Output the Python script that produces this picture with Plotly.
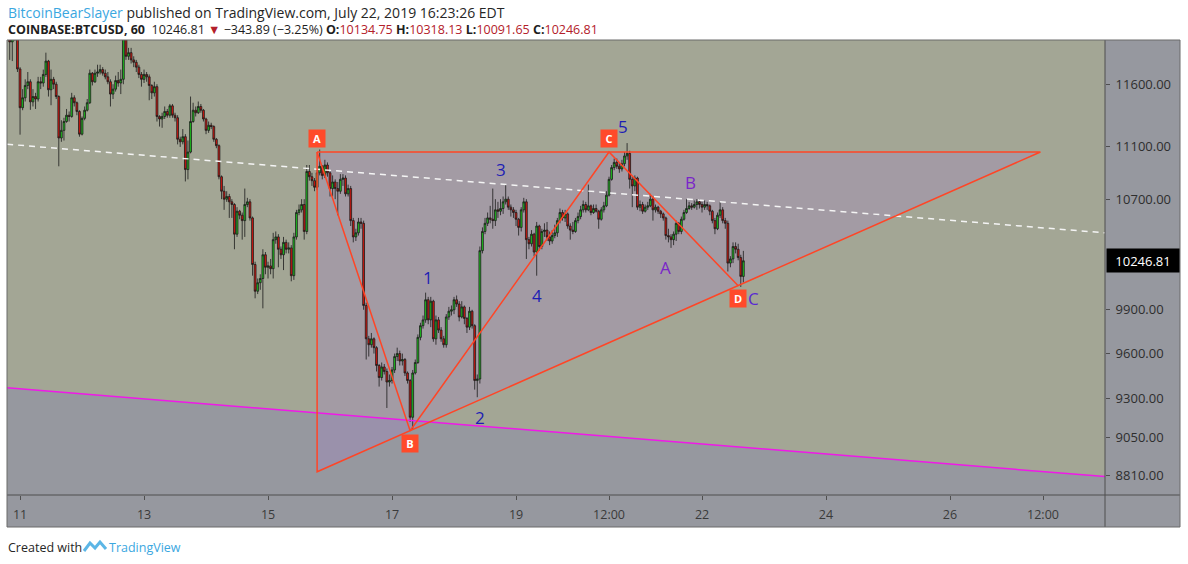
import numpy as np
import pandas as pd
import plotly.graph_objects as go

# ---- hourly BTCUSD candles (Coinbase, 60 min) ----
start_time = "2019-07-10 20:00"
first_open = 12000

closes = [
    11950, 11990, 12050, 11725, 11410, 11490, 11590, 11620, 11457, 11500, 11480, 11620,
    11610, 11680, 11790, 11555, 11640, 11600, 11500, 11170, 11230, 11300, 11350, 11340,
    11490, 11450, 11380, 11200, 11325, 11390, 11450, 11690, 11620, 11690, 11700, 11720,
    11690, 11660, 11620, 11520, 11560, 11630, 11610, 11640, 11990, 11830, 11860, 11800,
    11780, 11740, 11680, 11640, 11680, 11660, 11590, 11530, 11580, 11340, 11320, 11340,
    11380, 11350, 11425, 11350, 11330, 11160, 11140, 11180, 10925, 11060, 11300, 11390,
    11370, 11420, 11390, 11320, 11230, 11270, 11260, 11160, 11110, 10870, 10760, 10700,
    10720, 10680, 10660, 10440, 10610, 10580, 10540, 10660, 10680, 10560, 10220, 10030,
    10090, 10120, 10290, 10200, 10210, 10190, 10400, 10420, 10330, 10290, 10380, 10330,
    10340, 10140, 10420, 10600, 10620, 10660, 10460, 10910, 10870, 10840, 10790, 10900,
    10950, 10880, 10960, 10900, 10780, 10830, 10780, 10760, 10850, 10860, 10740, 10780,
    10540, 10420, 10450, 10530, 10520, 9930, 9700, 9660, 9700, 9640, 9520, 9440,
    9510, 9480, 9410, 9420, 9490, 9580, 9600, 9550, 9560, 9470, 9420, 9180,
    9470, 9540, 9710, 9790, 9830, 9970, 9830, 9960, 9700, 9830, 9760, 9700,
    9660, 9850, 9890, 9900, 9970, 9940, 9850, 9920, 9840, 9780, 9890, 9790,
    9420, 9430, 10320, 10460, 10520, 10560, 10550, 10540, 10620, 10610, 10630, 10680,
    10700, 10640, 10620, 10600, 10550, 10490, 10620, 10680, 10400, 10370, 10440, 10310,
    10500, 10350, 10460, 10470, 10420, 10390, 10430, 10450, 10540, 10600, 10560, 10590,
    10500, 10470, 10460, 10540, 10570, 10620, 10660, 10620, 10650, 10600, 10630, 10610,
    10550, 10620, 10650, 10730, 10850, 10940, 10980, 10950, 10930, 10970, 11030, 11050,
    10850, 10800, 10860, 10640, 10660, 10610, 10640, 10650, 10700, 10620, 10640, 10610,
    10590, 10560, 10430, 10420, 10400, 10440, 10520, 10460, 10550, 10600, 10630, 10650,
    10640, 10660, 10680, 10660, 10640, 10660, 10650, 10610, 10540, 10480, 10580, 10620,
    10540, 10520, 10230, 10260, 10350, 10330, 10270, 10134.75, 10246.81,
]

highs = [
    12150, 12100, 12200, 12100, 11740, 11560, 11640, 11700, 11640, 11560, 11530, 11660,
    11660, 11720, 11860, 11800, 11720, 11660, 11620, 11510, 11310, 11330, 11400, 11380,
    11530, 11510, 11460, 11390, 11340, 11420, 11480, 11720, 11700, 11720, 11760, 11760,
    11740, 11720, 11700, 11640, 11600, 11670, 11700, 11720, 12100, 12050, 11900, 11900,
    11830, 11800, 11760, 11700, 11720, 11700, 11680, 11600, 11620, 11600, 11350, 11370,
    11420, 11400, 11440, 11440, 11370, 11350, 11180, 11240, 11200, 11150, 11500, 11450,
    11420, 11460, 11440, 11400, 11330, 11300, 11290, 11270, 11170, 11120, 10880, 10800,
    10760, 10740, 10700, 10670, 10640, 10620, 10600, 10780, 10710, 10700, 10570, 10240,
    10120, 10150, 10330, 10310, 10240, 10260, 10450, 10460, 10440, 10350, 10420, 10400,
    10380, 10360, 10450, 10620, 10660, 10700, 10700, 10960, 10960, 10900, 10860, 10930,
    11080, 10960, 11000, 10980, 10910, 10880, 10850, 10830, 10890, 10890, 10880, 10810,
    10800, 10560, 10480, 10560, 10560, 10540, 9950, 9720, 9740, 9710, 9650, 9530,
    9540, 9530, 9500, 9460, 9510, 9600, 9640, 9620, 9600, 9570, 9480, 9430,
    9490, 9560, 9730, 9810, 9860, 10020, 9990, 9990, 9970, 9860, 9850, 9780,
    9720, 9870, 9920, 9930, 9990, 10000, 9960, 9960, 9930, 9850, 9920, 9900,
    9800, 9460, 10350, 10490, 10560, 10600, 10650, 10780, 10700, 10680, 10700, 10720,
    10810, 10720, 10660, 10640, 10620, 10560, 10640, 10710, 10700, 10420, 10470, 10450,
    10530, 10510, 10480, 10520, 10530, 10460, 10470, 10510, 10560, 10630, 10620, 10620,
    10600, 10520, 10530, 10560, 10600, 10650, 10690, 10680, 10810, 10660, 10660, 10660,
    10620, 10640, 10680, 10760, 10870, 10960, 11010, 11010, 10980, 11000, 11060, 11130,
    11070, 10870, 10880, 10870, 10690, 10680, 10660, 10680, 10740, 10720, 10660, 10650,
    10620, 10600, 10570, 10480, 10440, 10460, 10540, 10530, 10570, 10620, 10700, 10680,
    10670, 10690, 10700, 10700, 10680, 10690, 10680, 10660, 10620, 10560, 10600, 10680,
    10640, 10560, 10540, 10280, 10380, 10380, 10370, 10290, 10318.13,
]

lows = [
    11800, 11790, 11960, 11700, 11196, 11390, 11460, 11560, 11393, 11420, 11400, 11460,
    11560, 11580, 11660, 11500, 11430, 11560, 11480, 10950, 11140, 11150, 11290, 11300,
    11330, 11420, 11350, 11180, 11190, 11310, 11380, 11440, 11590, 11610, 11660, 11680,
    11670, 11640, 11600, 11420, 11480, 11540, 11580, 11520, 11600, 11800, 11800, 11770,
    11740, 11700, 11650, 11580, 11610, 11620, 11470, 11480, 11500, 11300, 11260, 11250,
    11320, 11330, 11330, 11330, 11300, 11120, 11100, 11120, 10834, 10850, 11050, 11290,
    11340, 11360, 11370, 11300, 11200, 11210, 11240, 11140, 11090, 10850, 10700, 10620,
    10680, 10560, 10560, 10330, 10420, 10550, 10400, 10420, 10640, 10540, 10140, 9980,
    10010, 10040, 9910, 10150, 10120, 10150, 10120, 10370, 10200, 10260, 10180, 10300,
    10300, 10100, 10110, 10400, 10580, 10600, 10400, 10440, 10840, 10800, 10760, 10770,
    10880, 10850, 10860, 10870, 10720, 10720, 10700, 10580, 10740, 10800, 10720, 10720,
    10500, 10380, 10390, 10430, 10480, 9900, 9560, 9580, 9640, 9600, 9480, 9380,
    9420, 9460, 9240, 9380, 9400, 9470, 9550, 9520, 9520, 9450, 9400, 9150,
    9100, 9460, 9530, 9690, 9770, 9810, 9800, 9780, 9680, 9660, 9740, 9680,
    9640, 9640, 9830, 9860, 9870, 9920, 9820, 9840, 9800, 9740, 9760, 9770,
    9360, 9310, 9400, 10300, 10440, 10500, 10520, 10480, 10500, 10560, 10580, 10590,
    10660, 10620, 10570, 10560, 10500, 10430, 10460, 10600, 10260, 10330, 10350, 10280,
    10140, 10320, 10330, 10420, 10390, 10360, 10370, 10410, 10420, 10520, 10540, 10530,
    10480, 10400, 10440, 10450, 10520, 10550, 10600, 10600, 10610, 10580, 10590, 10600,
    10480, 10540, 10600, 10640, 10720, 10840, 10920, 10930, 10900, 10910, 10950, 11000,
    10780, 10640, 10760, 10620, 10610, 10590, 10600, 10620, 10640, 10540, 10600, 10590,
    10560, 10540, 10400, 10380, 10340, 10360, 10390, 10440, 10440, 10540, 10590, 10620,
    10620, 10630, 10620, 10630, 10600, 10620, 10620, 10580, 10520, 10440, 10470, 10560,
    10520, 10480, 10170, 10200, 10230, 10300, 10250, 10060, 10091.65,
]

# ---- drawings (time, price) ----
pattern_names = ["A", "B", "C", "D"]
pattern_times = ["2019-07-15 19:00", "2019-07-17 07:00", "2019-07-20 12:00", "2019-07-22 14:00"]
pattern_prices = [11061, 9093, 11061, 10069]

triangle_times = ["2019-07-15 19:00", "2019-07-27 11:00", "2019-07-15 19:00"]
triangle_prices = [11061, 11061, 8835]

dashed_times = ["2019-07-10 19:00", "2019-07-28 12:00"]
dashed_prices = [11121, 10450]

magenta_times = ["2019-07-10 19:00", "2019-07-28 12:00"]
magenta_prices = [9372, 8805]

wave_labels = ["1", "2", "3", "4", "5", "A", "B", "C"]
wave_times = ["2019-07-17 14:00", "2019-07-18 10:00", "2019-07-18 18:00", "2019-07-19 08:00",
              "2019-07-20 17:30", "2019-07-21 10:00", "2019-07-21 19:30", "2019-07-22 19:45"]
wave_prices = [10125, 9177, 10923, 9997, 11257, 10197, 10829, 9976]
wave_colors = ["#1d1db4", "#1d1db4", "#1d1db4", "#1d1db4", "#1d1db4", "#7a25c8", "#7a25c8", "#5a2ad2"]

ytick_vals = [8810, 9050, 9300, 9600, 9900, 10700, 11100, 11600]
xtick_vals = ["2019-07-11", "2019-07-13", "2019-07-15", "2019-07-17", "2019-07-19",
              "2019-07-20 12:00", "2019-07-22", "2019-07-24", "2019-07-26", "2019-07-27 12:00"]
xtick_text = ["11", "13", "15", "17", "19", "12:00", "22", "24", "26", "12:00"]

x_range = ["2019-07-10 18:57", "2019-07-28 12:00"]
y_range = [8692, 11966]

assert len(closes) == len(highs) == len(lows)

times = pd.date_range(start_time, periods=len(closes), freq="h")
opens = [first_open] + closes[:-1]

# pixel helpers for the frame decorations
PL, PR, PT, PB = 7, 1105, 40, 495


def fx(px):
    return (px - PL) / (PR - PL)


def fy(py):
    return (PB - py) / (PB - PT)


def path_pts(ts, ps):
    pts = [f"{t.replace(' ', '_')},{p}" for t, p in zip(ts, ps)]
    return "M " + " L ".join(pts) + " Z"


BG_GREEN = "#a3a695"
BG_BLUE = "#96989f"
RED_LINE = "#ff4526"
FONT = "Open Sans"

fig = go.Figure()

fig.add_trace(
    go.Candlestick(
        x=times,
        open=opens,
        high=highs,
        low=lows,
        close=closes,
        increasing=dict(fillcolor="#1ec41e", line=dict(color="#1b1b1b", width=0.8)),
        decreasing=dict(fillcolor="#d8170f", line=dict(color="#1b1b1b", width=0.8)),
        whiskerwidth=0,
        hoverinfo="skip",
    )
)

# white dashed trend line
fig.add_trace(
    go.Scatter(
        x=dashed_times, y=dashed_prices, mode="lines",
        line=dict(color="#f4f4f4", width=1.5, dash="6px,5px"),
        hoverinfo="skip"
    )
)

# magenta line
fig.add_trace(
    go.Scatter(
        x=magenta_times, y=magenta_prices, mode="lines",
        line=dict(color="#f018e8", width=1.5),
        hoverinfo="skip"
    )
)

# triangle outline
fig.add_trace(
    go.Scatter(
        x=triangle_times + triangle_times[:1], y=triangle_prices + triangle_prices[:1],
        mode="lines", line=dict(color=RED_LINE, width=1.5),
        hoverinfo="skip"
    )
)

# A-B-C-D zigzag
fig.add_trace(
    go.Scatter(
        x=pattern_times, y=pattern_prices, mode="lines",
        line=dict(color=RED_LINE, width=1.5),
        hoverinfo="skip"
    )
)

shapes = [
    # price scale and time scale panels
    dict(type="rect", xref="paper", yref="paper", x0=fx(1105), x1=fx(1180), y0=fy(527), y1=fy(40),
         fillcolor=BG_BLUE, line=dict(width=0), layer="below"),
    dict(type="rect", xref="paper", yref="paper", x0=fx(7), x1=fx(1105), y0=fy(527), y1=fy(495),
         fillcolor=BG_BLUE, line=dict(width=0), layer="below"),
    # shaded area under the magenta line
    dict(type="path", xref="x", yref="y",
         path=path_pts(magenta_times + magenta_times[::-1], magenta_prices + [8000, 8000]),
         fillcolor=BG_BLUE, line=dict(width=0), layer="below"),
    # triangle fill
    dict(type="path", xref="x", yref="y",
         path=path_pts(triangle_times, triangle_prices),
         fillcolor="rgba(165,128,198,0.3)", line=dict(width=0), layer="below"),
    # frame lines
    dict(type="line", xref="paper", yref="paper", x0=fx(1105), x1=fx(1105), y0=fy(527), y1=fy(40),
         line=dict(color="#4f4f4f", width=1)),
    dict(type="line", xref="paper", yref="paper", x0=fx(7), x1=fx(1180), y0=fy(495), y1=fy(495),
         line=dict(color="#4f4f4f", width=1)),
    dict(type="rect", xref="paper", yref="paper", x0=fx(7), x1=fx(1180), y0=fy(527), y1=fy(40),
         line=dict(color="#6a6a6a", width=1)),
    # TradingView logo mark
    dict(type="path", xref="paper", yref="paper",
         path=f"M {fx(84)},{fy(551)} L {fx(90)},{fy(543)} L {fx(95)},{fy(548)} L {fx(100)},{fy(542)} L {fx(106)},{fy(549)}",
         line=dict(color="#5cb6e6", width=3)),
]

annotations = []

# pattern point tags
for name, t, p in zip(pattern_names, pattern_times, pattern_prices):
    up = name in ("A", "C")
    annotations.append(dict(
        x=t, y=np.log10(p), xref="x", yref="y", text=f"<b>{name}</b>", showarrow=False,
        font=dict(family=FONT, size=11, color="white"), bgcolor="#ff4a2a",
        borderpad=2, width=12, height=13, yshift=13 if up else -13
    ))

# wave count labels
for lab, t, p, c in zip(wave_labels, wave_times, wave_prices, wave_colors):
    annotations.append(dict(
        x=t, y=np.log10(p), xref="x", yref="y", text=lab, showarrow=False,
        font=dict(family=FONT, size=17, color=c)
    ))

# last price tag
annotations.append(dict(
    x=fx(1106), y=np.log10(closes[-1]), xref="paper", yref="y", xanchor="left",
    text=f"{closes[-1]:.2f}", showarrow=False, bgcolor="black",
    font=dict(family=FONT, size=13, color="white"), width=66, height=17, borderpad=3
))

# header
red = "#b3202a"
annotations.append(dict(
    x=fx(6), y=fy(12), xref="paper", yref="paper", xanchor="left", yanchor="middle", showarrow=False,
    text="<span style='color:#3ba7df'>BitcoinBearSlayer</span> published on TradingView.com, July 22, 2019 16:23:26 EDT",
    font=dict(family=FONT, size=14, color="#262626")
))
annotations.append(dict(
    x=fx(6), y=fy(29), xref="paper", yref="paper", xanchor="left", yanchor="middle", showarrow=False,
    text=(f"<b>COINBASE:BTCUSD, 60</b>  {closes[-1]:.2f} <span style='color:{red}'>▼</span> −343.89 (−3.25%) "
          f"<b>O:</b><span style='color:{red}'>{opens[-1]:.2f}</span> "
          f"<b>H:</b><span style='color:{red}'>{highs[-1]:.2f}</span> "
          f"<b>L:</b><span style='color:{red}'>{lows[-1]:.2f}</span> "
          f"<b>C:</b><span style='color:{red}'>{closes[-1]:.2f}</span>"),
    font=dict(family=FONT, size=12.5, color="#1e1e1e")
))
# footer
annotations.append(dict(
    x=fx(6), y=fy(547), xref="paper", yref="paper", xanchor="left", yanchor="middle", showarrow=False,
    text="Created with", font=dict(family=FONT, size=12.5, color="#262626")
))
annotations.append(dict(
    x=fx(107), y=fy(547), xref="paper", yref="paper", xanchor="left", yanchor="middle", showarrow=False,
    text="TradingView", font=dict(family=FONT, size=12.5, color="#3ba7df")
))

fig.update_layout(
    width=1188, height=564,
    margin=dict(l=PL, r=1188 - PR, t=PT, b=564 - PB),
    paper_bgcolor="white",
    plot_bgcolor=BG_GREEN,
    showlegend=False,
    shapes=shapes,
    annotations=annotations,
    boxgap=0,
    font=dict(family=FONT, size=12, color="#333333"),
)

fig.update_xaxes(
    type="date", range=x_range,
    tickvals=xtick_vals, ticktext=xtick_text,
    ticks="outside", ticklen=4, tickcolor="#4f4f4f", ticklabelstandoff=4,
    tickfont=dict(family=FONT, size=12.5, color="#3a3a3a"),
    showgrid=False, zeroline=False, showline=False,
    rangeslider_visible=False,
)

fig.update_yaxes(
    type="log", range=[np.log10(y_range[0]), np.log10(y_range[1])],
    side="right",
    tickvals=ytick_vals, ticktext=[f"{v:.2f}" for v in ytick_vals],
    ticks="outside", ticklen=4, tickcolor="#4f4f4f", ticklabelstandoff=3,
    tickfont=dict(family=FONT, size=13, color="#2e2e2e"),
    showgrid=False, zeroline=False, showline=False,
)

fig.write_html("out.html", config={"displayModeBar": False},
               post_script="document.body.style.margin='0';")
